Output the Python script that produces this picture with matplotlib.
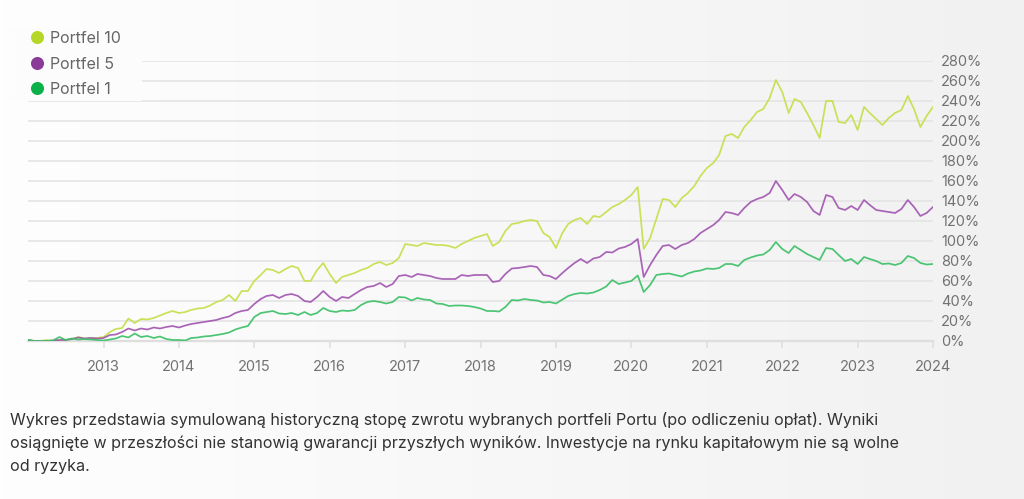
"""Simulated historical returns of three Portu portfolios, 2012-2024."""

import matplotlib

matplotlib.use("Agg")
import matplotlib.pyplot as plt
import numpy as np
import pandas as pd
from matplotlib.colors import LinearSegmentedColormap
from matplotlib.lines import Line2D
from matplotlib.patches import Rectangle

plt.rcParams["font.family"] = ["Inter", "DejaVu Sans"]

# monthly cumulative return (%), one row per year starting Jan 2012, last value Jan 2024
P10 = [
    1, 0, 0, 1, 0, 1, 1, 2, 4, 2.5, 3, 3,
    4, 9, 12, 13, 22.5, 18, 22, 21.5, 23, 25.5, 28, 30,
    28, 29, 31, 32.5, 33, 35.5, 39, 41, 46, 40, 50, 50,
    60, 66, 72, 71, 68, 72, 75, 73, 60, 60, 71, 78,
    67, 58, 64, 66, 68, 71, 73, 77, 79, 76, 78, 83,
    97, 96, 95, 98, 97, 96, 96, 95, 93, 97, 100, 103,
    105, 107, 95, 99, 110, 117, 118, 120, 121, 120, 108, 104,
    93, 108, 117, 121, 123, 117, 125, 124, 129, 134, 137, 141,
    146, 154, 92, 103, 122, 142, 141, 134, 143, 148, 155, 165,
    173, 178, 186, 205, 207, 203, 214, 221, 229, 232, 243, 261,
    249, 228, 242, 239, 228, 216, 203, 240, 240, 219, 218, 226,
    211, 234, 228, 222, 216, 223, 228, 231, 245, 232, 214, 225,
    234,
]
P5 = [
    1, 0, 0, 0, 0.5, 1, 1, 2, 3.5, 2.5, 3, 2.5,
    3, 6, 6.5, 9, 12.5, 10.5, 12.5, 11.5, 13.5, 12.5, 14, 15,
    13.5, 15.5, 17, 18, 19, 20, 21, 23, 24.5, 28, 30, 31,
    37, 42, 45, 46, 43, 46, 47, 45, 40, 39, 44, 50,
    44, 40, 44, 43, 47, 51, 54, 55, 58, 54, 57, 65,
    66, 64, 67, 66, 65, 63, 62, 62, 62, 66, 65, 66,
    66, 66, 59, 60, 67, 72.5, 73, 74, 75, 74, 66, 65,
    62, 68, 73, 78, 82, 78, 82.5, 84, 89, 88.5, 92.5, 94,
    97, 102, 64, 76, 86, 95, 96, 92, 96, 98, 102, 108,
    112, 116, 121, 129, 128, 126, 133, 139, 142, 144, 148, 160,
    151, 141, 147, 144, 139, 130, 126, 146, 144, 133, 131, 135,
    131, 141, 136, 131, 130, 129, 128, 132, 141, 134, 125, 128,
    134,
]
P1 = [
    1, 0, 0, 0, 0.5, 4, 1, 2.5, 1.5, 2, 1.5, 1,
    0.5, 1.5, 2.5, 5, 3.5, 7.5, 4, 5, 3, 4.5, 2, 1,
    1, 0.5, 3, 3.5, 4.5, 5, 6, 7, 8.5, 11.5, 13.5, 15,
    24, 28, 29, 30, 27.5, 27, 28, 26, 29, 26, 28, 33,
    30, 29, 30.5, 30, 31, 36, 39, 40, 39, 37.5, 39, 44,
    43.5, 40.5, 43, 41.5, 41, 37.5, 37, 35, 35.5, 35.5, 35, 34,
    32.5, 30, 30, 29.5, 34, 41, 40.5, 42, 41, 40.5, 38.5, 39,
    37.5, 41.5, 45, 47, 48, 47.5, 48.5, 51, 54.5, 61, 57, 58.5,
    60, 65.5, 49, 56, 66, 67, 67.5, 66, 64.5, 67.5, 69.5, 70.5,
    72.5, 72, 73, 77, 77, 75, 81, 83.5, 85.5, 86.5, 91, 99,
    92, 88, 95, 91, 87, 84, 81, 93, 92, 86, 80, 82,
    77, 84, 82, 80, 77, 77.5, 76, 78, 85, 83, 78, 76.5,
    77,
]
LABELS = ["Portfel 10", "Portfel 5", "Portfel 1"]
YEARS = list(range(2013, 2025))
Y_TICKS = list(range(0, 281, 20))
CAPTION = [
    "Wykres przedstawia symulowaną historyczną stopę zwrotu wybranych portfeli Portu (po odliczeniu opłat). Wyniki",
    "osiągnięte w przeszłości nie stanowią gwarancji przyszłych wyników. Inwestycje na rynku kapitałowym nie są wolne",
    "od ryzyka.",
]

LINE_COLORS = ["#c4e04a", "#a257b1", "#3cc068"]
DOT_COLORS = ["#b7d727", "#8a3b98", "#0db14a"]
TICK_GREY = "#727272"

W, H = 1024, 499


def main():
    fig = plt.figure(figsize=(W / 100, H / 100), dpi=100)

    # soft left-to-right background shading
    bg = fig.add_axes([0, 0, 1, 1], zorder=-10)
    cmap = LinearSegmentedColormap.from_list("bg", ["#fefefe", "#f1f1f1"])
    bg.imshow(np.linspace(0, 1, 256)[None, :], cmap=cmap, aspect="auto", extent=[0, 1, 0, 1])
    bg.axis("off")

    ax = fig.add_axes([28 / W, 1 - 341 / H, (933 - 28) / W, (341 - 61) / H])
    ax.patch.set_alpha(0)

    dates = pd.date_range("2012-01-01", periods=len(P10), freq="MS")
    for series, color in zip([P10, P5, P1], LINE_COLORS):
        ax.plot(dates, series, color=color, lw=1.25, alpha=0.92, zorder=3)

    ax.set_xlim(dates[0], dates[-1])
    ax.set_ylim(0, 280)
    ax.set_xticks([pd.Timestamp(f"{y}-01-01") for y in YEARS])
    ax.set_xticklabels([str(y) for y in YEARS])
    ax.set_yticks(Y_TICKS)
    ax.set_yticklabels([f"{v}%" for v in Y_TICKS])
    ax.yaxis.tick_right()
    ax.tick_params(axis="y", length=0, pad=5.8, labelsize=10.5, labelcolor=TICK_GREY)
    ax.tick_params(axis="x", length=5, width=1.1, color="#dddddd", pad=9,
                   labelsize=10.5, labelcolor=TICK_GREY)
    ax.grid(axis="y", color="#e4e4e4", lw=1.2)
    ax.set_axisbelow(True)
    for side in ("top", "left", "right"):
        ax.spines[side].set_visible(False)
    ax.spines["bottom"].set_color("#dedede")
    ax.spines["bottom"].set_linewidth(1.7)

    # legend panel sits over the top-left gridlines
    fig.add_artist(Rectangle((9 / W, 1 - 101 / H), 133 / W, 74 / H, transform=fig.transFigure,
                             facecolor="#fcfcfc", edgecolor="none", zorder=1))
    handles = [Line2D([], [], marker="o", ls="none", ms=9.4, mew=0, color=c) for c in DOT_COLORS]
    fig.legend(handles, LABELS, loc="upper left", bbox_to_anchor=(31 / W, 1 - 31 / H),
               frameon=False, borderpad=0, borderaxespad=0, handlelength=0.78,
               handletextpad=0.42, labelspacing=0.66, fontsize=11.5, labelcolor="#666666")

    for i, line in enumerate(CAPTION):
        fig.text(10 / W, 1 - (420 + 23 * i) / H, line, ha="left", va="center",
                 fontsize=11.6, color="#333333")

    fig.savefig("out.png", dpi=100)


if __name__ == "__main__":
    main()
